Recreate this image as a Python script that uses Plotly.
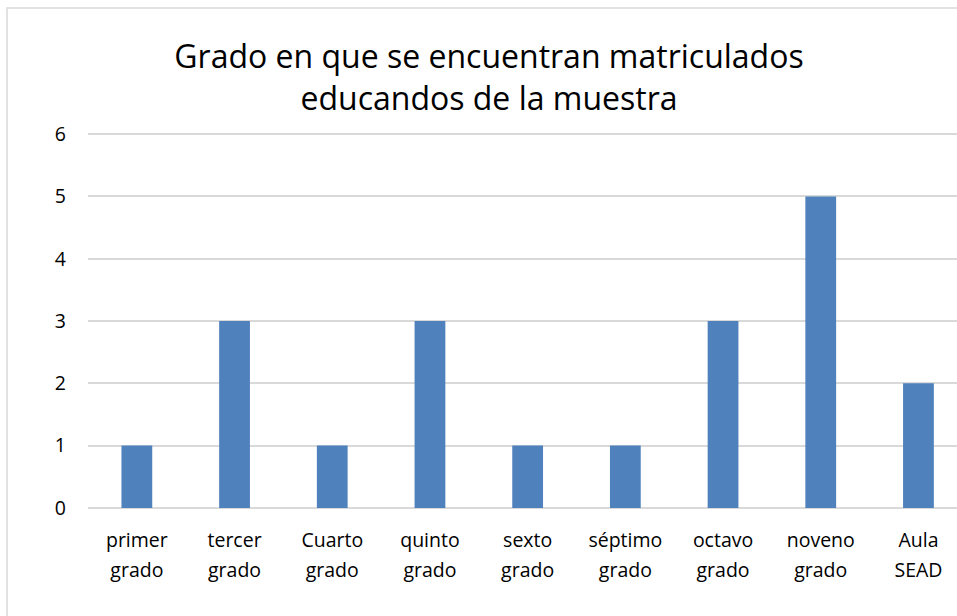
import plotly.graph_objects as go

categories = ["primer grado", "tercer grado", "Cuarto grado", "quinto grado",
              "sexto grado", "séptimo grado", "octavo grado", "noveno grado",
              "Aula SEAD"]
values = [1, 3, 1, 3, 1, 1, 3, 5, 2]
y_ticks = [0, 1, 2, 3, 4, 5, 6]

line1 = [c.split(" ", 1)[0] for c in categories]
line2 = [c.split(" ", 1)[1] for c in categories]

W, H = 957, 616
EXT = 0.05
L, R, T, B = 88, 0, 131, 105
PW, PH = W - L - R, H - T - B
CAT_PX = 97.7

idx = list(range(len(categories)))
fig = go.Figure()
fig.add_trace(go.Bar(x=idx, y=values, marker=dict(color="#4F81BD", line=dict(width=0)),
                     width=0.315, xaxis="x", yaxis="y"))
# invisible carrier trace for the second label line axis
fig.add_trace(go.Scatter(x=idx, y=values, xaxis="x2", yaxis="y", mode="none",
                         hoverinfo="skip", showlegend=False))

font_family = "Open Sans, Noto Sans, sans-serif"
xr = [-0.5, -0.5 + PW / CAT_PX]
fig.update_layout(
    width=W, height=H,
    margin=dict(l=L, r=R, t=T, b=B, pad=0),
    paper_bgcolor="white", plot_bgcolor="white",
    showlegend=False,
    font=dict(family=font_family, color="#000000"),
    title=dict(text="Grado en que se encuentran matriculados<br>educandos de la muestra",
               x=489 / W, xanchor="center", xref="container",
               y=1 - 68 / H, yanchor="top", yref="container",
               font=dict(size=32, family=font_family, color="#000000")),
    xaxis=dict(tickmode="array", tickvals=idx, ticktext=line1,
               range=xr, showgrid=False, zeroline=False, showline=False,
               ticks="", tickfont=dict(size=19.5), ticklabelstandoff=15),
    xaxis2=dict(tickmode="array", tickvals=idx, ticktext=line2, overlaying="x",
                side="bottom", anchor="y",
                range=xr, showgrid=False, zeroline=False, showline=False,
                ticks="", tickfont=dict(size=19.5), ticklabelstandoff=45),
    yaxis=dict(range=[-EXT, 6 + EXT], tickvals=y_ticks, showgrid=True, gridcolor="#D9D9D9",
               gridwidth=1.5, zeroline=True, zerolinecolor="#D9D9D9", zerolinewidth=1.5,
               showline=False, ticks="",
               tickfont=dict(size=19.5), ticklabelstandoff=21),
    shapes=[dict(type="rect", xref="paper", yref="paper",
                 x0=(7 - L) / PW, x1=1.2,
                 y0=-0.5, y1=(H - B - 8) / PH,
                 line=dict(color="#D9D9D9", width=1.5), fillcolor="rgba(0,0,0,0)",
                 layer="below")],
)

fig.write_html("out.html", config={"displayModeBar": False},
               post_script="document.body.style.margin='0';document.body.style.overflow='hidden';")
